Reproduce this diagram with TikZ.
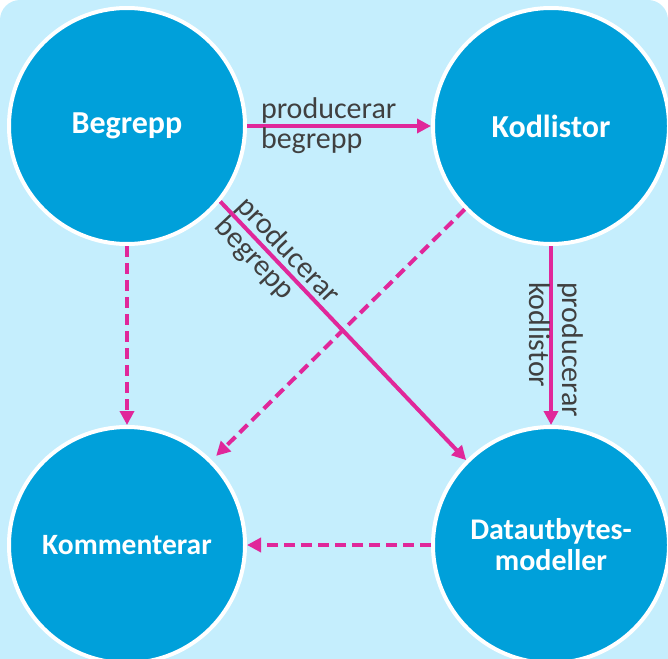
\documentclass[tikz,border=0pt]{standalone}
\usepackage{fontspec}
\setmainfont{Carlito}
\usetikzlibrary{arrows.meta}
\definecolor{bgblue}{HTML}{C5EEFD}
\definecolor{circblue}{HTML}{00A0DA}
\definecolor{arrmag}{HTML}{E0279A}
\definecolor{labgray}{HTML}{404040}
\tikzset{
  circnode/.style={circle, fill=circblue, draw=white, line width=4pt, minimum size=236pt, inner sep=0pt,
    text=white, font=\fontsize{30}{31}\selectfont\bfseries, align=center},
  big/.style={font=\fontsize{32}{33}\selectfont\bfseries},
  arr/.style={draw=arrmag, line width=4pt, -{Triangle[length=14pt,width=14pt]}},
  dasharr/.style={arr, dash pattern=on 11pt off 6pt},
  lab/.style={text=labgray, font=\fontsize{30}{30}\selectfont, align=left, inner sep=0pt}
}
\begin{document}
\begin{tikzpicture}[x=1pt,y=-1pt]
\useasboundingbox (0,0) rectangle (668,658);
\fill[bgblue, rounded corners=20pt] (0,0) rectangle (668,720);
\begin{scope}
\clip (0,0) rectangle (668,658);
\node[circnode, big] (beg) at (127,126) {Begrepp};
\node[circnode, big] (kod) at (551,126) {Kodlistor};
\node[circnode, font=\fontsize{29.5}{31}\selectfont\bfseries] (kom) at (127,545) {Kommenterar};
\node[circnode] (dat) at (551,545) {Datautbytes-\\modeller};
\end{scope}
\draw[arr] (beg.east) -- (kod.west)
  node[lab, pos=0, anchor=west, xshift=12pt] (l1) {producerar\\begrepp};
\draw[arr] (kod.south) -- (dat.north)
  node[lab, font=\fontsize{30}{33}\selectfont, pos=0.19, anchor=west, xshift=3pt, rotate=-90] (l2) {producerar\\kodlistor\vphantom{p}};
\draw[arr] (beg.-39) -- (dat.135)
  node[lab, pos=0.035, anchor=west, rotate=-46.6] (l3) {producerar\\begrepp};
\draw[dasharr] (beg.south) -- (kom.north);
\draw[dasharr, shorten >=6pt] (kod.-136) -- (kom.45);
\draw[dasharr] (dat.west) -- (kom.east);
\end{tikzpicture}
\end{document}
